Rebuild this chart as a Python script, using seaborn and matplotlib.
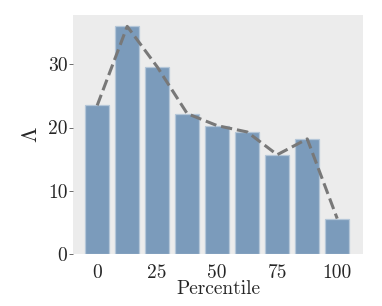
import matplotlib
matplotlib.use("Agg")
import matplotlib.pyplot as plt
import seaborn as sns
import pandas as pd

# -------------------------------
# Data
# -------------------------------

percentile = [0, 12.5, 25, 37.5, 50, 62.5, 75, 87.5, 100]
lam = [23.5, 36.0, 29.6, 22.2, 20.3, 19.3, 15.7, 18.2, 5.6]
xticks = [0, 25, 50, 75, 100]
yticks = [0, 10, 20, 30]

df = pd.DataFrame({"percentile": percentile, "lam": lam})

# -------------------------------
# Style
# -------------------------------

sns.set_theme(style="white")
plt.rcParams["font.family"] = ["cmr10", "DejaVu Serif"]
plt.rcParams["mathtext.fontset"] = "cm"
plt.rcParams["axes.formatter.use_mathtext"] = True
plt.rcParams["axes.unicode_minus"] = False

fig = plt.figure(figsize=(3.82, 3.06), dpi=100)
ax = fig.add_axes([0.191, 0.170, 0.759, 0.781])
ax.set_facecolor("#ececec")

sns.barplot(
    data=df,
    x="percentile",
    y="lam",
    native_scale=True,
    width=0.8,
    color="#7b9bbb",
    saturation=1,
    edgecolor="#b4c6d8",
    linewidth=0.9,
    ax=ax
)

sns.lineplot(
    data=df,
    x="percentile",
    y="lam",
    color="#787878",
    linestyle="--",
    linewidth=2.2,
    dashes=(4, 2),
    ax=ax
)

ax.set_xlim(-10.1, 110.7)
ax.set_ylim(0, 37.8)
ax.set_xticks(xticks)
ax.set_yticks(yticks)
ax.set_xticklabels([str(t) for t in xticks], fontsize=14)
ax.set_yticklabels([str(t) for t in yticks], fontsize=14)
ax.tick_params(axis="y", left=True, length=3, width=0.6, color="#555555", pad=1)
ax.tick_params(axis="x", bottom=False, pad=1)

ax.set_xlabel("Percentile", fontsize=14, labelpad=-1)
ax.set_ylabel(r"$\Lambda$", fontsize=16, labelpad=5)

for s in ax.spines.values():
    s.set_visible(False)

fig.savefig("out.png", dpi=100)
